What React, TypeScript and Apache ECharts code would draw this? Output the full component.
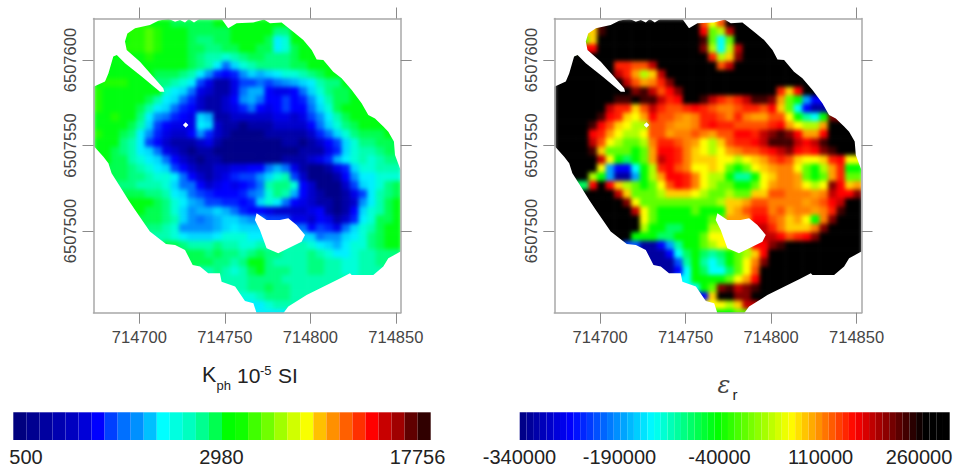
import React, { useEffect, useRef } from "react";
import * as echarts from "echarts";

const X_MIN = 714673.2;
const X_MAX = 714852.85;
const Y_MIN = 6507452.25;
const Y_MAX = 6507624.3;
const CELL = 5;
const X_TICKS = [714700, 714750, 714800, 714850];
const Y_TICKS = [6507500, 6507550, 6507600];

// Survey footprint, metres from this origin
const ORIGIN = [714600, 6507600];
const FOOTPRINT = [
  [91.6, 10.8], [93, 15.6], [97.5, 18.6], [106.2, 20.5], [111.1, 23], [117, 24.2], [120.9, 22.4], [123.8, 23.4],
  [126.7, 21.9], [129, 24], [132, 21.9], [135.1, 24], [148.1, 24], [152, 18.6], [156.9, 21.5], [166.6, 21.9],
  [172.9, 23.8], [176.4, 21.5], [183.2, 21.9], [190, 16.6], [195.9, 11.7], [200.8, 5.9], [203.7, 0.4], [207.6, 0],
  [213.4, -6.8], [218.3, -10.7], [224.2, -17.5], [230, -25.3], [233.9, -32.1], [237.8, -34.1], [242.7, -38.9],
  [245.6, -41.9], [248.9, -47.7], [249.5, -55.5], [252.8, -64.3], [252.8, -112], [245.6, -115.9], [242.7, -120.8],
  [236.8, -125.7], [224.2, -125.7], [223.2, -124.7], [217.3, -127.7], [197.8, -137.4], [187.1, -144.2], [184.2, -148.1],
  [168.6, -148.1], [166.7, -142.2], [161.8, -140.9], [156, -132.5], [148.1, -129.6], [147.1, -124.7], [140.3, -124.7],
  [135.5, -120.8], [131.2, -119.8], [126.7, -111.1], [120.9, -108.1], [115.6, -107.6], [106.2, -100.3], [97.5, -87.7],
  [93.6, -81.8], [88.7, -74], [83.8, -66.2], [81.9, -60.4], [79, -56.5], [73.2, -50.1], [73.2, -15.6], [79.9, -12.6],
  [81.9, -7.8], [84.8, 2], [86.8, 2.9], [91.6, -1.9], [101.4, -9.7], [112.1, -18.5], [114.6, -18.5], [114, -16.5],
  [100.4, -1], [92.6, 5.9],
];
const HOLE = [
  [168.6, -89.6], [174.4, -93.5], [182.2, -93.5], [187.1, -92.5], [192, -96.4], [196.9, -102.3], [194.9, -106.2],
  [181.2, -113], [174.4, -110.1], [170.5, -99.4], [167.6, -93.5],
];
const DIAMOND = [[127.1, -36.4], [128.7, -38], [127.1, -39.6], [125.5, -38]];

// Susceptibility legend: 32 classes
const KAPPA_COLORS = [
  "#00007f", "#000090", "#0000a0", "#0000b0", "#0000c0", "#0000d8", "#0000ff", "#0040ff",
  "#0070ff", "#0090ff", "#00c0ff", "#00ffff", "#00ffe0", "#00ffc0", "#00ff90", "#00ff50",
  "#00ff00", "#10ff00", "#40ff00", "#70ff00", "#a0ff00", "#d0ff00", "#f8ff00", "#ffc000",
  "#ff9000", "#ff6000", "#ff3000", "#ff0000", "#c80000", "#a00000", "#600000", "#300000",
];
// Classes a..s as they appear on the map
const KAPPA_KEYS = "abcdefghijklmnopqrs";
const KAPPA_MAP_COLORS = [
  "#000088", "#0000a8", "#0000cc", "#0000e8", "#0000ff", "#0020ff", "#0040ff", "#0070ff",
  "#0090ff", "#00b0ff", "#00d8ff", "#00f0ff", "#00ffd8", "#00ffb0", "#00ff80", "#00ff50",
  "#00ff10", "#20ff00", "#50ff00",
];

const KAPPA_ROWS = [
  ".......qqpppppqqqqqqqq",
  "....rrsrqqqpppppqqqqqooq",
  "...qrrsrqqqpooppqqqqplmqq",
  "....rrsrqqqppooppqqpplmpqq",
  "....qqrqqqqponnmnoppooopqqq",
  "..q..qqqqqqponlhkmnooooppqqq",
  ".qqqq.qppponlifefikjklmmnopqq",
  "qrrrqq.oonmlgdbbdgghghijklnooq",
  "rqqqqqq.mlkhdcbbdhjjeddehkmoppq",
  "rqqqqqpnlkhfcbbceijheegefilnppqq",
  "rqqqqpnlkhfecbbcdfhedegeehkmpqqq",
  "qqrqqolihfedkjbbcccccddcdgilnpqqq",
  "qqqqpnkged.dlkcbbabbbccccehkmopqqq",
  "rqqpolifdcceifcbaaaabbbbbcfhkmopppq",
  "qqqonlgecbbbcdbaaaaaaabbabcegkmoopp",
  "qqponlkhdcbabbaaaaaaaaaabbbdfkmnnop",
  ".qppnmlkhecbabbaaaaaaabbbcdfjlmnmnoo",
  "..pponmlkgecbbccddeehjhdbaabdfkmmnnn",
  "..ppoonmmlhecbcdfggikmngcaaabeillmmm",
  "...oonnnmkhhecdedefhnoomecaaacgklmop",
  "....ppoonlkhgfeeefhimonjecbaabdglnop",
  "....qqqpomljiggffefkmlhedcbbabcilnpq",
  ".....qppomkijjkjhfe.dccccdebabekmnpq",
  "......pponkihijkkji..g..dcedbcflmppq",
  ".......onmiiiijklkk.....hegfdhkmnpqq",
  ".......nnmlkkklmmmll.....khiiklmopqq",
  ".........ponnnonnmmn....nmlkjlmmopqq",
  "...........ppopoonopoonnnonmllmnnoo",
  "...........pppoonoqqonnnnoonnmmnno",
  ".............nonmnpqooonnoonnmmnn",
  "...............nnnoooonnnnnnn",
  "................nnoopoonnnn",
  ".................mmnooonn",
  "..................llmnn",
  "...................lll",
];

// Permittivity colour classes used by the cells
const EPS_KEYS = "ABCDEFGHIJKLMNOPQRSTU";
const EPS_COLORS = [
  "#0000a0", "#0000ff", "#0050ff", "#00a0ff", "#00ffff", "#00ffa0", "#00ff60", "#00ff00",
  "#60ff00", "#b0ff00", "#ffff00", "#ffd000", "#ffa000", "#ff8000", "#ff5000", "#ff2000",
  "#ff0000", "#c00000", "#800000", "#400000", "#000000",
];

const EPS_ROWS = [
  ".......UUUUUUUUUUOKOUU",
  "....LTUUUUUUUUUUUQIJRUUU",
  "...ILUUUUUUUUUUUUTIEIUUUU",
  "....QUUUUUUUUUUUUSJEJRUUUU",
  "....UUUUUUUUUUUUUUPJLSUUUUU",
  "..U..UUPPOORUUUUUUUORUUUUUUU",
  ".UUUU.URPMJLRUUUUUUUUUUUUUUUU",
  "UUUUUU.UROMNPSUUUUUUUUUUUUUUUU",
  "UUUUUUU.USTROQSUUUUUUUUUUUPLQUU",
  "UUUUUUUTTUTTRPQUUTRPOPRTTSMIHDBB",
  "UUUUUURPPLORPOOPQPONNOPPOQLIEBAA",
  "UUUUUTQPLKMQOONMNPPONPNMMOOKHFEHS",
  "UUUUTQOLKJ.OONMMNPQPPOOOOPQMKJJMUU",
  "UUUUQPMKJJKOOMNNONMOOQQPRSTSQMMQUUU",
  "UUUUROKJIIJNPPONMKJLOPPQRTTTRQRTUUU",
  "UUUUTLIIIHIMQQPNLKJKMNOOPQRSQPQSTUU",
  ".UUUURKHGHIMRQPNLLLKKJKLMOPOLKKLPQKK",
  "..UUUKDBBEHJPQONKKLKIHIKLMNNKIHJMPHH",
  "..UUJHDAADHJMQQPNKJJHFFHKLNNMIHIMPII",
  "...GQUQLJIHIKOQPNKJIIHHIKMNNMKJKSQLM",
  "....UUURLIIIJLLLKJIIJIILLOONNNMNRQQS",
  "....UUUUSKIIIIIIIIIJLLMOONNNNMNOQRUU",
  ".....UUUURKIHHHHIHH.LMOPPNOMNNMNPTUU",
  "......UUUUKIHHHHHHI..M..QONLMKHNSUUU",
  ".......UUUJHHGGHHHJ.....RPNLLLNSUUUU",
  ".......UUHHHGGHHHIKK.....RQOPQSUUUUU",
  ".........CAABDFHHIJK....QSTUUUUUUUUU",
  "...........AABEGHGFGHIJLQUUUUUUUUUU",
  "...........AAACFHFEFHIKNSUUUUUUUUU",
  ".............ABEHGEEGIKOUUUUUUUUU",
  "...............EHHHHIKMQUUUUU",
  "................EHISTRSTUUU",
  ".................BLUUSSUU",
  "..................KKJLR",
  "...................HHI",
];

// Colour stops of the permittivity legend
const EPS_RAMP: [number, string][] = [
  [0, "#000080"], [0.12, "#0000ff"], [0.31, "#00ffff"], [0.46, "#00ff00"],
  [0.63, "#ffff00"], [0.78, "#ff0000"], [0.94, "#000000"], [1, "#000000"],
];
const EPS_LEVEL_COUNT = 64;
const KAPPA_BAR_LABELS = ["500", "2980", "17756"];
const EPS_BAR_LABELS = ["-340000", "-190000", "-40000", "110000", "260000"];

function hexRgb(h: string) {
  return [1, 3, 5].map((i) => parseInt(h.slice(i, i + 2), 16));
}
function rampColor(t: number) {
  for (let i = 0; i < EPS_RAMP.length - 1; i++) {
    const [a, ca] = EPS_RAMP[i];
    const [b, cb] = EPS_RAMP[i + 1];
    if (t <= b) {
      const f = (t - a) / (b - a);
      const A = hexRgb(ca);
      const B = hexRgb(cb);
      return `rgb(${A.map((v, k) => Math.round(v + (B[k] - v) * f)).join(",")})`;
    }
  }
  return "#000";
}
const EPS_BAR_COLORS = Array.from({ length: EPS_LEVEL_COUNT }, (_, i) => rampColor((i + 0.5) / EPS_LEVEL_COUNT));

const COLS = 36;
// Cells, with a margin of the nearest cell's class under the footprint's edge so the clip falls on full colour.
function cells(rows: string[], keys: string) {
  let g: string[][] = rows.map((r) => r.padEnd(COLS, ".").split(""));
  for (let pass = 0; pass < 3; pass++) {
    const next = g.map((r) => r.slice());
    g.forEach((r, j) =>
      r.forEach((c, i) => {
        if (c !== ".") return;
        for (const [dj, di] of [[0, -1], [0, 1], [-1, 0], [1, 0], [-1, -1], [-1, 1], [1, -1], [1, 1]]) {
          const n = g[j + dj]?.[i + di];
          if (n && n !== ".") {
            next[j][i] = n;
            break;
          }
        }
      })
    );
    g = next;
  }
  const out: number[][] = [];
  g.forEach((r, j) =>
    r.forEach((c, i) => {
      const k = keys.indexOf(c);
      if (k >= 0) out.push([X_MIN + CELL * (i + 0.5), Y_MAX - CELL * (j + 0.5), k]);
    })
  );
  return out;
}

function mapSeries(name: string, idx: number, rows: string[], keys: string, colors: string[]) {
  return {
    type: "custom",
    name,
    xAxisIndex: idx,
    yAxisIndex: idx,
    clip: false,
    silent: true,
    encode: { x: 0, y: 1 },
    data: cells(rows, keys),
    renderItem: (_: any, api: any) => {
      const x = api.value(0);
      const y = api.value(1);
      const a = api.coord([x - CELL / 2, y + CELL / 2]);
      const b = api.coord([x + CELL / 2, y - CELL / 2]);
      return {
        type: "rect",
        shape: { x: a[0], y: a[1], width: b[0] - a[0] + 0.6, height: b[1] - a[1] + 0.6 },
        style: { fill: colors[api.value(2)] },
      };
    },
  };
}

const LINE = { lineStyle: { color: "#a8a8a8", width: 1.5 } };
const TICK = { lineStyle: { color: "#8a8a8a", width: 1 } };
const LABEL_COLOR = "#454545";
const FONT = "'Liberation Sans', Arial, sans-serif";

function xAxis(grid: number, position: string, labels: boolean) {
  return {
    type: "value", gridIndex: grid, position, min: X_MIN, max: X_MAX, scale: true,
    axisLine: { show: true, onZero: false, ...LINE },
    axisTick: { show: true, length: 11, customValues: X_TICKS, ...TICK },
    splitLine: { show: false },
    axisLabel: labels
      ? { show: true, customValues: X_TICKS, margin: 16, color: LABEL_COLOR, fontSize: 16.5, fontFamily: FONT, formatter: (v: number) => String(v) }
      : { show: false },
  };
}
function yAxis(grid: number, position: string, labels: boolean) {
  return {
    type: "value", gridIndex: grid, position, min: Y_MIN, max: Y_MAX, scale: true,
    axisLine: { show: true, onZero: false, ...LINE },
    axisTick: { show: true, length: 11, customValues: Y_TICKS, ...TICK },
    splitLine: { show: false },
    axisLabel: labels
      ? { show: true, customValues: Y_TICKS, rotate: 90, margin: 15, color: LABEL_COLOR, fontSize: 16.5, fontFamily: FONT, formatter: (v: number) => String(v) }
      : { show: false },
  };
}

function text(t: string, x: number, y: number, size: number, align = "center", extra: any = {}) {
  return {
    type: "text", x, y, silent: true,
    style: { text: t, fill: "#222", font: `${size}px ${FONT}`, textAlign: align, textVerticalAlign: "middle", ...extra },
  };
}

const KAPPA_CATS = KAPPA_COLORS.map((_, i) => i);
const EPS_CATS = EPS_BAR_COLORS.map((_, i) => i);
const G1 = { left: 93.5, top: 18.5, width: 307.2, height: 294.2 };
const G2 = { left: 554.3, top: 18.5, width: 307.2, height: 294.2 };

export default function App() {
  const clipRef = useRef<HTMLDivElement>(null);
  const mapRef = useRef<HTMLDivElement>(null);
  const topRef = useRef<HTMLDivElement>(null);
  useEffect(() => {
    document.body.style.margin = "0";
    const maps = echarts.init(mapRef.current!, undefined, { renderer: "svg" });
    maps.setOption({
      animation: false,
      grid: [G1, G2],
      xAxis: [0, 1].map((g) => ({ type: "value", gridIndex: g, min: X_MIN, max: X_MAX, scale: true, show: false })),
      yAxis: [0, 1].map((g) => ({ type: "value", gridIndex: g, min: Y_MIN, max: Y_MAX, scale: true, show: false })),
      series: [
        mapSeries("Kph", 0, KAPPA_ROWS, KAPPA_KEYS, KAPPA_MAP_COLORS),
        mapSeries("Er", 1, EPS_ROWS, EPS_KEYS, EPS_COLORS),
      ],
    });
    // The footprint goes through the library's scales as well: it clips the blurred cell layer.
    const ring = (pts: number[][], g: number) =>
      "M" +
      pts
        .map(([a, b]) => maps.convertToPixel({ gridIndex: g }, [ORIGIN[0] + a, ORIGIN[1] + b]) as number[])
        .map((p) => `${p[0].toFixed(1)} ${p[1].toFixed(1)}`)
        .join("L") +
      "Z";
    const d = [0, 1].map((g) => ring(FOOTPRINT, g) + ring(HOLE, g) + ring(DIAMOND, g)).join("");
    clipRef.current!.style.clipPath = `path(evenodd, "${d}")`;

    const chart = echarts.init(topRef.current!, undefined, { renderer: "svg" });
    chart.setOption({
      animation: false,
      grid: [G1, G2, { left: 13.3, top: 412.3, width: 417.4, height: 27.7 }, { left: 519.7, top: 412.3, width: 430, height: 27.7 }],
      xAxis: [
        xAxis(0, "bottom", true), xAxis(1, "bottom", true),
        { type: "category", gridIndex: 2, data: KAPPA_CATS, show: false },
        { type: "category", gridIndex: 3, data: EPS_CATS, show: false },
        xAxis(0, "top", false), xAxis(1, "top", false),
      ],
      yAxis: [
        yAxis(0, "left", true), yAxis(1, "left", true),
        { type: "value", gridIndex: 2, min: 0, max: 1, show: false },
        { type: "value", gridIndex: 3, min: 0, max: 1, show: false },
        yAxis(0, "right", false), yAxis(1, "right", false),
      ],
      series: [
        {
          type: "bar", xAxisIndex: 2, yAxisIndex: 2, barWidth: "100%", silent: true,
          data: KAPPA_COLORS.map((c) => ({ value: 1, itemStyle: { color: c } })),
        },
        {
          type: "bar", xAxisIndex: 3, yAxisIndex: 3, barWidth: "100%", silent: true,
          data: EPS_BAR_COLORS.map((c) => ({ value: 1, itemStyle: { color: c } })),
        },
      ],
      graphic: {
        elements: [
          text("K", 202, 375, 21.5, "left"),
          text("ph", 216.5, 385, 13, "left"),
          text("10", 237, 375, 21, "left"),
          text("-5", 260, 370, 13, "left"),
          text("SI", 278, 375, 21, "left"),
          { ...text("ε", 724, 385, 24, "center"), style: { ...text("ε", 724, 385, 24, "center").style, font: "italic 24px 'DejaVu Serif'", fill: "#444" } },
          text("r", 735, 394, 15, "center"),
          text(KAPPA_BAR_LABELS[0], 26, 456.5, 20),
          text(KAPPA_BAR_LABELS[1], 221.5, 456.5, 20),
          text(KAPPA_BAR_LABELS[2], 417.5, 456.5, 20),
          text(EPS_BAR_LABELS[0], 519.5, 456.5, 20),
          text(EPS_BAR_LABELS[1], 619.5, 456.5, 20),
          text(EPS_BAR_LABELS[2], 719.5, 456.5, 20),
          text(EPS_BAR_LABELS[3], 820.5, 456.5, 20),
          text(EPS_BAR_LABELS[4], 919, 456.5, 20),
        ],
      },
    });
    return () => {
      maps.dispose();
      chart.dispose();
    };
  }, []);
  return (
    <div style={{ position: "relative", width: 957, height: 473, background: "#fff", overflow: "hidden" }}>
      <div ref={clipRef} style={{ position: "absolute", left: 0, top: 0, width: 957, height: 473 }}>
        <div ref={mapRef} style={{ width: 957, height: 473, filter: "blur(2.2px)" }} />
      </div>
      <div ref={topRef} style={{ position: "absolute", left: 0, top: 0, width: 957, height: 473 }} />
    </div>
  );
}
